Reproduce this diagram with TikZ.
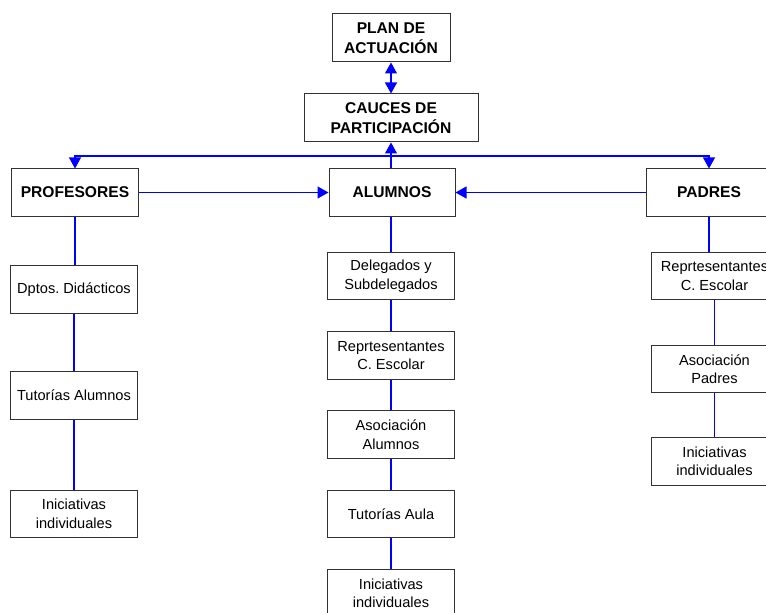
\documentclass[tikz,border=0pt]{standalone}
\usepackage{fontspec}
\setmainfont{Liberation Sans}
\usetikzlibrary{arrows.meta}
\definecolor{linkblue}{RGB}{0,0,255}
\definecolor{boxline}{RGB}{50,50,50}
\begin{document}
\begin{tikzpicture}[x=1bp,y=-1bp,
  mainbox/.style={draw=boxline,line width=1bp,fill=white,inner sep=0pt,align=center,
    minimum width=126bp,minimum height=47bp,font=\fontsize{15.6bp}{19.5bp}\selectfont\bfseries},
  subbox/.style={draw=boxline,line width=1bp,fill=white,inner sep=0pt,align=center,
    minimum width=127bp,minimum height=47.5bp,font=\fontsize{14.6bp}{18.5bp}\selectfont\frenchspacing},
  link/.style={draw=linkblue,line width=1.1bp},
  arr/.style={link,-{Triangle[length=11bp,width=12bp]}},
  darr/.style={link,{Triangle[length=11bp,width=12bp]}-{Triangle[length=11bp,width=12bp]}}]
\useasboundingbox (0,0) rectangle (766,613);
\clip (0,0) rectangle (766,613);
% top
\node[mainbox,minimum width=118bp,minimum height=48bp] (plan) at (391,38) {PLAN DE\\ACTUACIÓN};
\node[mainbox,minimum width=174bp,minimum height=48bp] (cauces) at (391,118) {CAUCES DE\\PARTICIPACIÓN};
% main row
\node[mainbox] (prof) at (75,192.5) {PROFESORES};
\node[mainbox] (alum) at (392,192.5) {ALUMNOS};
\node[mainbox] (padres) at (709,192.5) {PADRES};
% left column
\node[subbox] (dptos) at (74,289.5) {Dptos. Didácticos};
\node[subbox] (tutal) at (74,395.5) {Tutorías Alumnos};
\node[subbox] (inil) at (74,514) {Iniciativas\\individuales};
% middle column
\node[subbox] (deleg) at (391,276) {Delegados y\\Subdelegados};
\node[subbox] (repm) at (391,355.5) {Reprtesentantes\\C. Escolar};
\node[subbox] (asom) at (391,434.7) {Asociación\\Alumnos};
\node[subbox] (tuta) at (391,514) {Tutorías Aula};
\node[subbox] (inim) at (391,593.5) {Iniciativas\\individuales};
% right column
\node[subbox] (repr) at (714.5,276) {Reprtesentantes\\C. Escolar};
\node[subbox] (asop) at (714.5,369) {Asociación\\Padres};
\node[subbox] (inir) at (714.5,461.5) {Iniciativas\\individuales};
% connectors
\coordinate (hub) at (391,156);
\draw[darr] (plan.south) -- (plan.south |- cauces.north);
\draw[arr] (alum.north -| hub) -- (hub |- cauces.south);
\draw[arr] (hub) -| (prof.north);
\draw[arr] (hub) -| (padres.north);
\draw[arr] (prof.east) -- (alum.west);
\draw[arr] (padres.west) -- (alum.east);
\draw[link] (prof.south) -- (prof.south |- dptos.north);
\draw[link] (dptos.south) -- (tutal.north);
\draw[link] (tutal.south) -- (inil.north);
\draw[link] (alum.south -| deleg.north) -- (deleg.north);
\draw[link] (deleg.south) -- (repm.north);
\draw[link] (repm.south) -- (asom.north);
\draw[link] (asom.south) -- (tuta.north);
\draw[link] (tuta.south) -- (inim.north);
\draw[link] (padres.south) -- (padres.south |- repr.north);
\draw[link] (repr.south) -- (asop.north);
\draw[link] (asop.south) -- (inir.north);
\end{tikzpicture}
\end{document}
